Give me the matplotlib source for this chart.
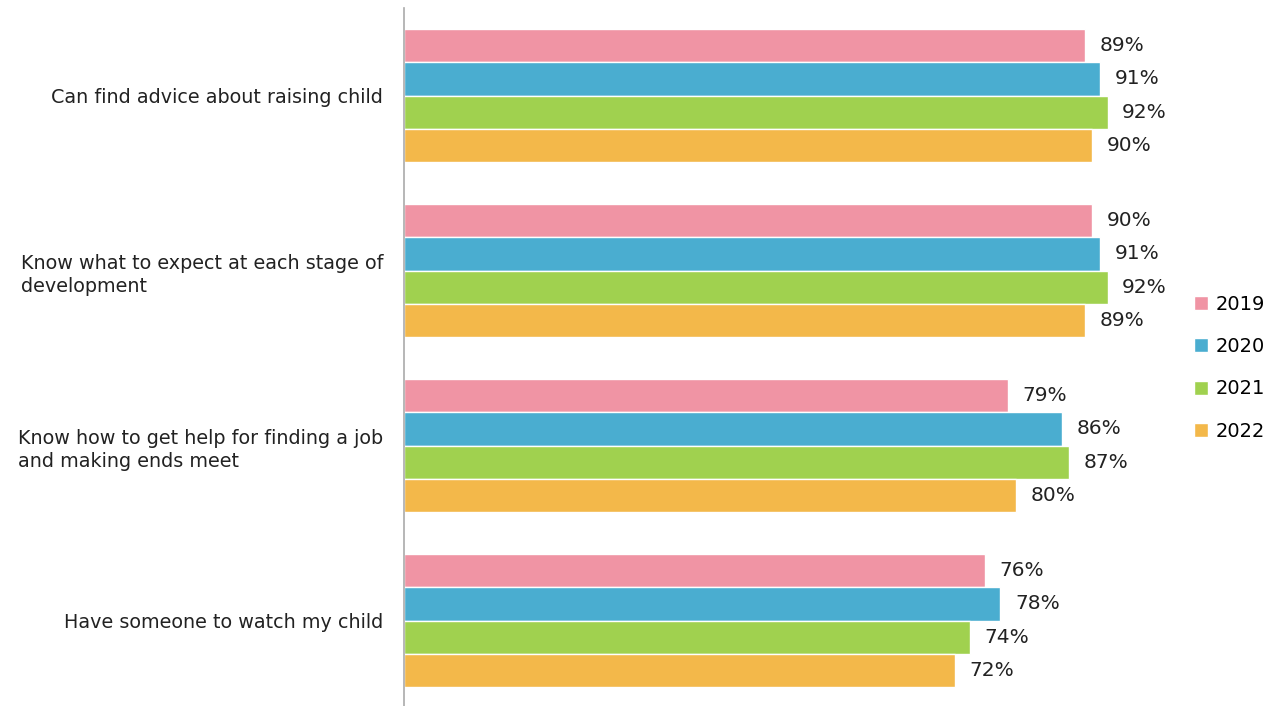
import numpy as np
import matplotlib.pyplot as plt

categories = ["Can find advice about raising child",
              "Know what to expect at each stage of\ndevelopment",
              "Know how to get help for finding a job\nand making ends meet",
              "Have someone to watch my child"]
years = ["2019", "2020", "2021", "2022"]
v2019 = [89, 90, 79, 76]
v2020 = [91, 91, 86, 78]
v2021 = [92, 92, 87, 74]
v2022 = [90, 89, 80, 72]
colors = ["#F094A4", "#4AADD0", "#A0D14F", "#F3B84A"]

plt.rcParams['font.family'] = ['DejaVu Sans']

fig = plt.figure(figsize=(12.79, 7.06), dpi=100)
ax = fig.add_axes([404 / 1279, -2 / 706, 780 / 1279, 700 / 706])

y = np.arange(len(categories))
h = 0.19
series = [v2019, v2020, v2021, v2022]
for i, vals in enumerate(series):
    pos = y - 1.5 * h + i * h
    bars = ax.barh(pos, vals, height=h, color=colors[i], edgecolor="white",
                   linewidth=1, label=years[i])
    for b, v in zip(bars, vals):
        ax.annotate(f"{v}%", (b.get_width(), b.get_y() + b.get_height() / 2),
                    xytext=(10.5, 0), textcoords="offset points",
                    va="center", ha="left", fontsize=14.5, color="#222222")

ax.set_xlim(0, 102)
ax.set_ylim(3.5, -0.5)
ax.set_yticks(y)
ax.set_yticklabels(categories, fontsize=13.8, color="#222222",
                   multialignment="left", linespacing=1.3)
ax.tick_params(axis="y", length=0, pad=15)
ax.set_xticks([])
for s in ["top", "right", "bottom"]:
    ax.spines[s].set_visible(False)
ax.spines["left"].set_color("#AAAAAA")
ax.spines["left"].set_linewidth(1.2)

ax.legend(loc="center left", bbox_to_anchor=(0.995, 0.486), frameon=False,
          fontsize=14, handlelength=0.75, handleheight=0.75,
          handletextpad=0.4, labelspacing=1.2, borderaxespad=0.3)

fig.savefig("out.png", dpi=100)
